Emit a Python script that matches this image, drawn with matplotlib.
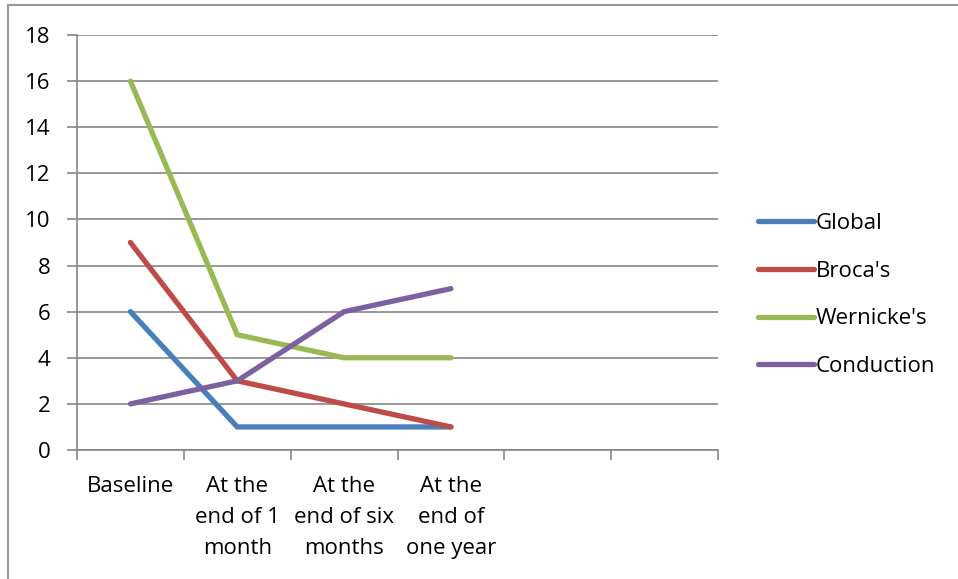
import matplotlib.pyplot as plt
from matplotlib.lines import Line2D

# valori pe etape de evaluare
categories = ["Baseline", "At the\nend of 1\nmonth", "At the\nend of six\nmonths",
              "At the\nend of\none year", "", ""]
global_vals = [6, 1, 1, 1]
broca_vals = [9, 3, 2, 1]
wernicke_vals = [16, 5, 4, 4]
conduction_vals = [2, 3, 6, 7]

series = [
    ("Global", global_vals, "#4A7EBB"),
    ("Broca's", broca_vals, "#BE4B48"),
    ("Wernicke's", wernicke_vals, "#98B954"),
    ("Conduction", conduction_vals, "#7D60A0"),
]

plt.rcParams["font.family"] = ["Open Sans", "DejaVu Sans"]
fig = plt.figure(figsize=(9.58, 5.79), dpi=100)
ax = fig.add_axes([77 / 958, 1 - 450 / 579, (718 - 77) / 958, (450 - 35) / 579])

grid_col = "#868686"
fs = 16
for name, vals, col in series:
    xs = [i + 0.5 for i in range(len(vals))]
    ax.plot(xs, vals, color=col, lw=3.8, solid_capstyle="round",
            solid_joinstyle="miter", label=name, zorder=3)

ax.set_xlim(0, len(categories))
ax.set_ylim(0, 18)
ax.set_yticks(range(0, 19, 2))
ax.yaxis.grid(True, color=grid_col, lw=1.2)
ax.set_axisbelow(True)

# ticks majore la granita categoriilor, etichete la mijloc
ax.set_xticks(range(len(categories) + 1))
ax.set_xticklabels([])
ax.set_xticks([i + 0.5 for i in range(len(categories))], minor=True)
ax.set_xticklabels(categories, minor=True, fontsize=fs, linespacing=1.6)
ax.tick_params(axis="x", which="major", length=7, width=1.2, color=grid_col)
ax.tick_params(axis="x", which="minor", length=0, pad=19)
ax.tick_params(axis="y", length=7, width=1.2, color=grid_col, labelsize=fs, pad=12)

for s in ["top", "right"]:
    ax.spines[s].set_visible(False)
for s in ["left", "bottom"]:
    ax.spines[s].set_color(grid_col)
    ax.spines[s].set_linewidth(1.2)

handles = [Line2D([0], [0], color=c, lw=3.8, solid_capstyle="round") for _, _, c in series]
fig.legend(handles, [n for n, _, _ in series], loc="center left",
           bbox_to_anchor=(738 / 958, 1 - 295 / 579), frameon=False,
           fontsize=fs, handlelength=2.5, handletextpad=0.1, labelspacing=1.2)

# chenarul graficului
fig.add_artist(Line2D([8 / 958, 1], [1 - 5 / 579, 1 - 5 / 579], color="#999999", lw=1.5,
                      transform=fig.transFigure))
fig.add_artist(Line2D([8 / 958, 8 / 958], [0, 1 - 5 / 579], color="#999999", lw=1.5,
                      transform=fig.transFigure))

fig.savefig("out.png", dpi=100)
